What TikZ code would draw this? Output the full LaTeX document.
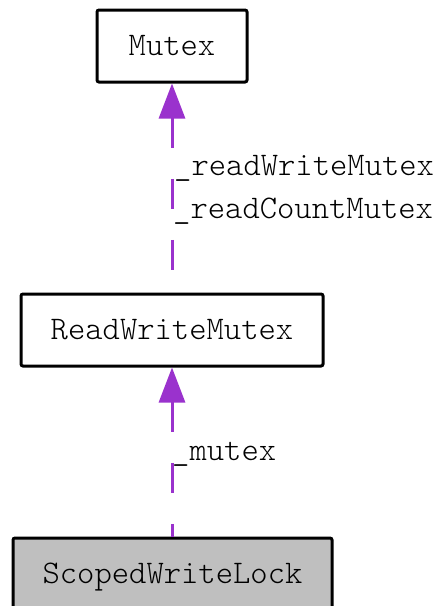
\documentclass[tikz,border=0pt]{standalone}
\usepackage{fontspec}
\setmonofont{Latin Modern Mono Light}
\usetikzlibrary{arrows.meta}
\definecolor{edgepurple}{RGB}{154,50,205}
\definecolor{classgray}{RGB}{191,191,191}
\tikzset{
  labelfont/.style={font=\ttfamily\fontsize{33}{33}\selectfont},
  classbox/.style={draw=black, line width=3pt, rounded corners=2pt,
    fill=white, minimum height=72pt, inner sep=0pt,
    text height=18pt, text depth=0pt, labelfont},
  usage/.style={edgepurple, line width=3pt, dash pattern=on 30.5pt off 30.5pt,
    {Triangle[length=35pt,width=26pt]}-},
  rolelabel/.style={anchor=base west, inner sep=0pt, labelfont}
}
\begin{document}
\begin{tikzpicture}[x=1pt,y=-1pt]
  \useasboundingbox (0,0) rectangle (434,606);
  \clip (0,0) rectangle (434,606);
  % class nodes
  \node[classbox, minimum width=150pt] (mutex) at (172,46) {Mutex};
  \node[classbox, minimum width=302pt] (rwm) at (172,330) {ReadWriteMutex};
  \node[classbox, minimum width=319pt, fill=classgray] (swl) at (172.5,574) {ScopedWriteLock};
  % usage relations
  \draw[usage] (mutex.south) -- (rwm.north);
  \draw[usage] (rwm.south) -- (swl.north -| rwm.south);
  % role labels
  \node[rolelabel] (lblwrite) at (174,175) {\_readWriteMutex};
  \node[rolelabel] (lblcount) at (173,218) {\_readCountMutex};
  \node[rolelabel] (lblmutex) at (172,460) {\_mutex};
\end{tikzpicture}
\end{document}
